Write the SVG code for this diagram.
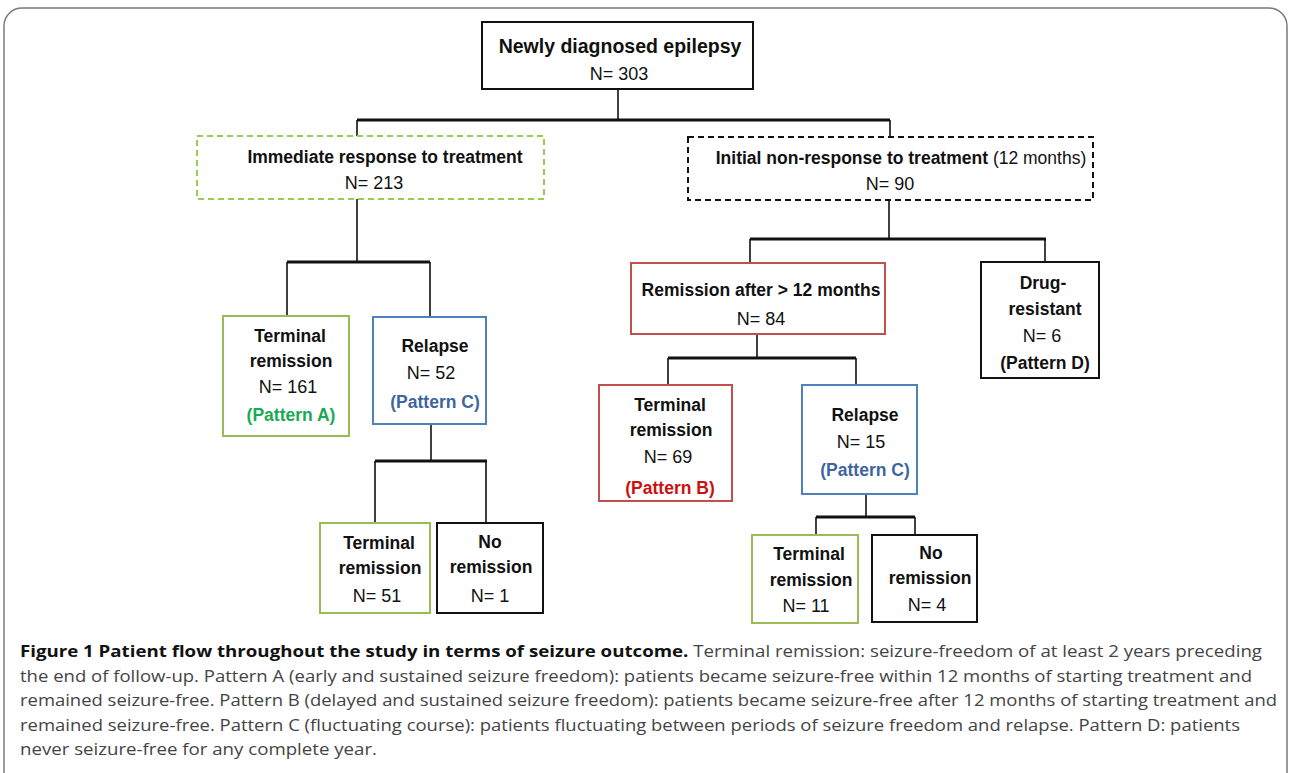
<svg xmlns="http://www.w3.org/2000/svg" width="1292" height="773" viewBox="0 0 1292 773">
<style>
.b{font-family:"Liberation Sans",Arial,sans-serif;font-weight:bold;font-size:17.5px;fill:#111;text-anchor:middle}
.r{font-family:"Liberation Sans",Arial,sans-serif;font-size:18px;fill:#111;text-anchor:middle}
.box{fill:#fff;stroke-width:2}
.k{stroke:#111}
.g{stroke:#9bbb59}
.red{stroke:#c0504d}
.bl{stroke:#4f81bd}
.thin{stroke:#111;stroke-width:1.6;fill:none}
.bar{stroke:#111;stroke-width:3;fill:none}
.cap{font-family:"Open Sans",sans-serif;font-size:16.5px;fill:#444}
.capb{font-weight:bold;fill:#111}
</style>
<rect x="0" y="0" width="1292" height="773" fill="#fff"/>
<rect x="4" y="8" width="1283" height="800" rx="18" fill="none" stroke="#7a7a7a" stroke-width="1.5"/>

<g id="connectors">
<path class="thin" d="M618 89V120"/>
<path class="bar" d="M357 120H890"/>
<path class="thin" d="M357 120V136M890 120V137"/>
<path class="thin" d="M357 199V262"/>
<path class="bar" d="M287 262H430"/>
<path class="thin" d="M287 262V316M430 262V317"/>
<path class="thin" d="M431 424V461"/>
<path class="bar" d="M375 461H487"/>
<path class="thin" d="M375 461V523M486 461V523"/>
<path class="thin" d="M889 200V239"/>
<path class="bar" d="M750 239H1046"/>
<path class="thin" d="M750 239V263M1045 239V262"/>
<path class="thin" d="M757 334V358"/>
<path class="bar" d="M668 358H856"/>
<path class="thin" d="M668 358V385M856 358V385"/>
<path class="thin" d="M866 494V517"/>
<path class="bar" d="M816 517H915"/>
<path class="thin" d="M816 517V535M915 517V535"/>
</g>

<g id="n-root">
<rect class="box k" x="482" y="22" width="271" height="67"/>
<text class="b" x="620" y="53" style="font-size:19.5px">Newly diagnosed epilepsy</text>
<text class="r" x="619" y="80">N= 303</text>
</g>

<g id="n-immediate">
<rect class="box" x="197" y="136" width="347" height="63" stroke="#92d050" stroke-dasharray="6,4"/>
<text class="b" x="385" y="163">Immediate response to treatment</text>
<text class="r" x="374" y="189">N= 213</text>
</g>

<g id="n-initial">
<rect class="box k" x="688" y="137" width="405" height="63" stroke-dasharray="6,4"/>
<text class="b" x="901" y="164">Initial non-response to treatment <tspan font-weight="normal">(12 months)</tspan></text>
<text class="r" x="890" y="190">N= 90</text>
</g>

<g id="n-term-a">
<rect class="box g" x="223" y="316" width="126" height="120"/>
<text class="b" x="290" y="342">Terminal</text>
<text class="b" x="291" y="367">remission</text>
<text class="r" x="288" y="393">N= 161</text>
<text class="b" x="291" y="421" style="fill:#1aaa55">(Pattern A)</text>
</g>

<g id="n-relapse52">
<rect class="box bl" x="373" y="317" width="113" height="107"/>
<text class="b" x="435" y="352">Relapse</text>
<text class="r" x="431" y="379">N= 52</text>
<text class="b" x="435" y="408" style="fill:#3d65a0">(Pattern C)</text>
</g>

<g id="n-term51">
<rect class="box g" x="320" y="523" width="110" height="90"/>
<text class="b" x="379" y="549">Terminal</text>
<text class="b" x="380" y="574">remission</text>
<text class="r" x="377" y="602">N= 51</text>
</g>

<g id="n-norem1">
<rect class="box k" x="437" y="523" width="106" height="90"/>
<text class="b" x="490" y="548">No</text>
<text class="b" x="491" y="573">remission</text>
<text class="r" x="490" y="602">N= 1</text>
</g>

<g id="n-remission84">
<rect class="box red" x="631" y="263" width="254" height="71"/>
<text class="b" x="761" y="296">Remission after &gt; 12 months</text>
<text class="r" x="761" y="325">N= 84</text>
</g>

<g id="n-drug">
<rect class="box k" x="981" y="262" width="118" height="116"/>
<text class="b" x="1043" y="289">Drug-</text>
<text class="b" x="1045" y="315">resistant</text>
<text class="r" x="1042" y="342">N= 6</text>
<text class="b" x="1045" y="369">(Pattern D)</text>
</g>

<g id="n-term69">
<rect class="box red" x="599" y="385" width="133" height="116"/>
<text class="b" x="670" y="411">Terminal</text>
<text class="b" x="671" y="436">remission</text>
<text class="r" x="668" y="463">N= 69</text>
<text class="b" x="670" y="494" style="fill:#cc1010">(Pattern B)</text>
</g>

<g id="n-relapse15">
<rect class="box bl" x="802" y="385" width="115" height="109"/>
<text class="b" x="865" y="421">Relapse</text>
<text class="r" x="861" y="448">N= 15</text>
<text class="b" x="865" y="476" style="fill:#3d65a0">(Pattern C)</text>
</g>

<g id="n-term11">
<rect class="box g" x="752" y="535" width="106" height="88"/>
<text class="b" x="809" y="560">Terminal</text>
<text class="b" x="811" y="586">remission</text>
<text class="r" x="806" y="612">N= 11</text>
</g>

<g id="n-norem4">
<rect class="box k" x="872" y="535" width="105" height="87"/>
<text class="b" x="931" y="559">No</text>
<text class="b" x="930" y="584">remission</text>
<text class="r" x="927" y="611">N= 4</text>
</g>

<g id="caption">
<text class="cap" x="20" y="657" textLength="1242" lengthAdjust="spacingAndGlyphs"><tspan class="capb">Figure 1 Patient flow throughout the study in terms of seizure outcome.</tspan> Terminal remission: seizure-freedom of at least 2 years preceding</text>
<text class="cap" x="20" y="682" textLength="1232" lengthAdjust="spacingAndGlyphs">the end of follow-up. Pattern A (early and sustained seizure freedom): patients became seizure-free within 12 months of starting treatment and</text>
<text class="cap" x="20" y="706" textLength="1257" lengthAdjust="spacingAndGlyphs">remained seizure-free. Pattern B (delayed and sustained seizure freedom): patients became seizure-free after 12 months of starting treatment and</text>
<text class="cap" x="20" y="731" textLength="1220" lengthAdjust="spacingAndGlyphs">remained seizure-free. Pattern C (fluctuating course): patients fluctuating between periods of seizure freedom and relapse. Pattern D: patients</text>
<text class="cap" x="20" y="755" textLength="357" lengthAdjust="spacingAndGlyphs">never seizure-free for any complete year.</text>
</g>
</svg>
